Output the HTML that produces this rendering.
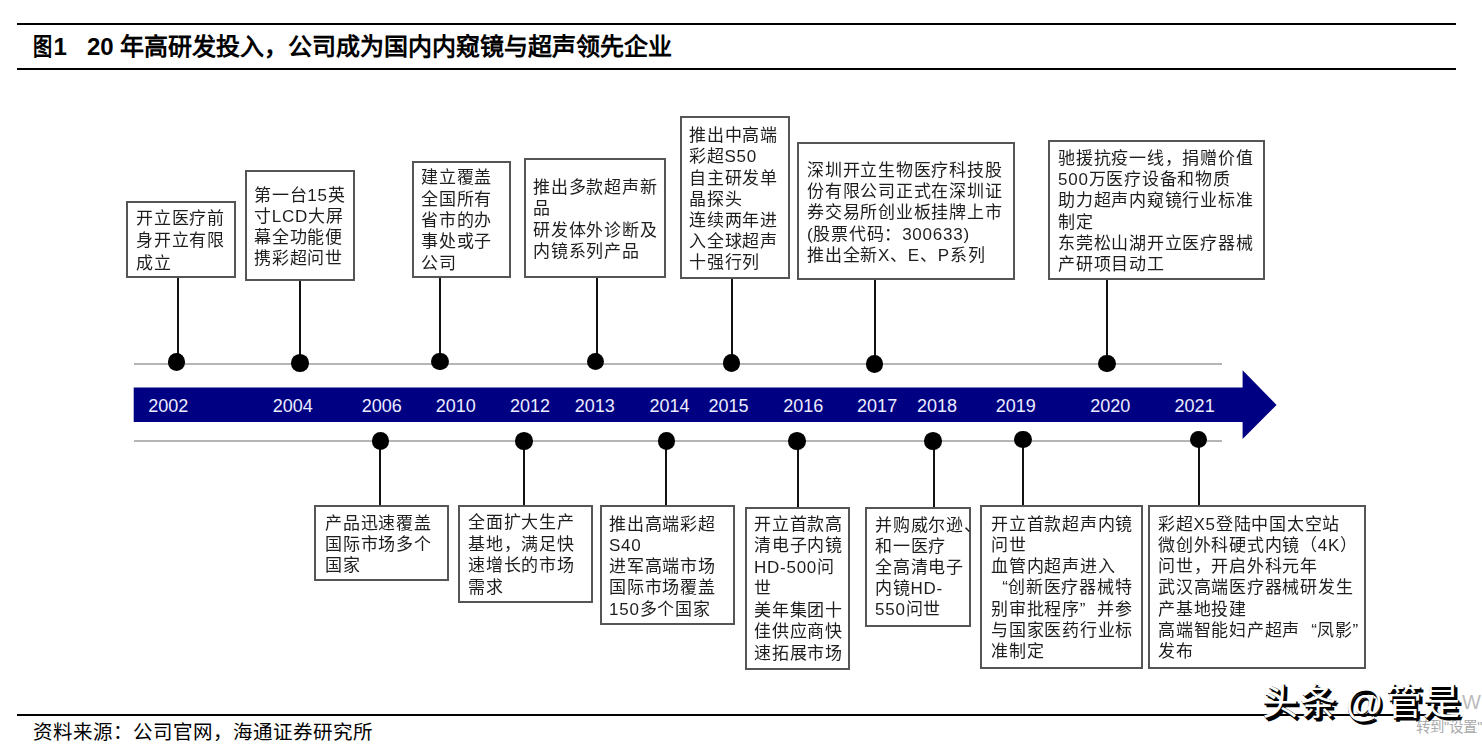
<!DOCTYPE html>
<html lang="zh-CN"><head><meta charset="utf-8"><title>timeline</title>
<style>
html,body{margin:0;padding:0;background:#fff;}
body{width:1482px;height:746px;position:relative;overflow:hidden;-webkit-font-smoothing:antialiased;font-family:"Liberation Sans",sans-serif;color:#1a1a1a;}
.hl{position:absolute;background:#000;height:2px;}
.gl{position:absolute;background:#b5b5b5;height:2px;left:133.7px;width:1088px;}
.bx{position:absolute;border:2px solid #555;background:#fff;}
.st{position:absolute;width:2px;background:#111;}
.dt{position:absolute;width:17.6px;height:17.6px;border-radius:50%;background:#000;}
.tx{position:absolute;will-change:transform;font-size:17px;line-height:20px;letter-spacing:0.75px;white-space:nowrap;color:#1e1e1e;}
.wm{position:absolute;font-size:36px;line-height:40px;font-weight:bold;white-space:nowrap;}
.ql{display:inline-block;width:17px;text-align:right;letter-spacing:0}
.qr{display:inline-block;width:17px;text-align:left;letter-spacing:0}
.yr{position:absolute;font-size:18px;line-height:20px;white-space:nowrap;color:#ececff;top:396px;}
</style></head><body>

<div class="hl" style="left:17px;top:23px;width:1439px"></div>
<div style="position:absolute;left:33px;top:31.5px;font-size:24px;line-height:30px;font-weight:bold;white-space:nowrap;color:#000;transform:scaleX(0.8);transform-origin:0 0">图</div>
<div style="position:absolute;left:53.5px;top:31.5px;font-size:24px;line-height:30px;font-weight:bold;white-space:nowrap;color:#000">1</div>
<div style="position:absolute;left:87px;top:31.5px;font-size:24px;line-height:30px;font-weight:bold;white-space:nowrap;color:#000">20 年高研发投入，公司成为国内内窥镜与超声领先企业</div>
<div class="hl" style="left:17px;top:68px;width:1439px"></div>
<div class="gl" style="top:363px"></div>
<div class="gl" style="top:440px"></div>
<svg style="position:absolute;left:0;top:0" width="1482" height="746"><polygon points="133.7,387.6 1242.6,387.6 1242.6,370.3 1276.6,405 1242.6,439.1 1242.6,422 133.7,422" fill="#000082"/></svg>
<div class="yr" style="left:148.3px">2002</div>
<div class="yr" style="left:272.7px">2004</div>
<div class="yr" style="left:361.7px">2006</div>
<div class="yr" style="left:435.8px">2010</div>
<div class="yr" style="left:510px">2012</div>
<div class="yr" style="left:574.8px">2013</div>
<div class="yr" style="left:649.4px">2014</div>
<div class="yr" style="left:708.5px">2015</div>
<div class="yr" style="left:783.2px">2016</div>
<div class="yr" style="left:857.1px">2017</div>
<div class="yr" style="left:916.9px">2018</div>
<div class="yr" style="left:995.7px">2019</div>
<div class="yr" style="left:1090.2px">2020</div>
<div class="yr" style="left:1174.6px">2021</div>
<div class="bx" style="left:126px;top:201px;width:106px;height:73px"></div>
<div class="st" style="left:176.5px;top:278px;height:84px"></div>
<div class="dt" style="left:167.7px;top:353.2px"></div>
<div class="tx" style="left:136px;top:208.9px">开立医疗前</div>
<div class="tx" style="left:136px;top:231.3px">身开立有限</div>
<div class="tx" style="left:136px;top:253.7px">成立</div>
<div class="bx" style="left:245px;top:170px;width:106px;height:107px"></div>
<div class="st" style="left:299px;top:281px;height:82px"></div>
<div class="dt" style="left:291.2px;top:354.2px"></div>
<div class="tx" style="left:254px;top:185.9px">第一台15英</div>
<div class="tx" style="left:254px;top:206.8px">寸LCD大屏</div>
<div class="tx" style="left:254px;top:227.7px">幕全功能便</div>
<div class="tx" style="left:254px;top:248.6px">携彩超问世</div>
<div class="bx" style="left:412px;top:161px;width:95px;height:113px"></div>
<div class="st" style="left:439px;top:278px;height:83.5px"></div>
<div class="dt" style="left:431.2px;top:352.7px"></div>
<div class="tx" style="left:420.8px;top:168.3px">建立覆盖</div>
<div class="tx" style="left:420.8px;top:189.6px">全国所有</div>
<div class="tx" style="left:420.8px;top:210.9px">省市的办</div>
<div class="tx" style="left:420.8px;top:232.2px">事处或子</div>
<div class="tx" style="left:420.8px;top:253.5px">公司</div>
<div class="bx" style="left:524px;top:158px;width:138px;height:116px"></div>
<div class="st" style="left:595.5px;top:278px;height:83.5px"></div>
<div class="dt" style="left:586.7px;top:352.7px"></div>
<div class="tx" style="left:533.2px;top:177.8px">推出多款超声新</div>
<div class="tx" style="left:533.2px;top:199.2px">品</div>
<div class="tx" style="left:533.2px;top:220.6px">研发体外诊断及</div>
<div class="tx" style="left:533.2px;top:242px">内镜系列产品</div>
<div class="bx" style="left:680px;top:116px;width:106px;height:159px"></div>
<div class="st" style="left:730.5px;top:279px;height:84px"></div>
<div class="dt" style="left:722.5px;top:354.2px"></div>
<div class="tx" style="left:689.3px;top:126.2px">推出中高端</div>
<div class="tx" style="left:689.3px;top:147.4px">彩超S50</div>
<div class="tx" style="left:689.3px;top:168.6px">自主研发单</div>
<div class="tx" style="left:689.3px;top:189.8px">晶探头</div>
<div class="tx" style="left:689.3px;top:211px">连续两年进</div>
<div class="tx" style="left:689.3px;top:232.2px">入全球超声</div>
<div class="tx" style="left:689.3px;top:253.4px">十强行列</div>
<div class="bx" style="left:797px;top:142px;width:214px;height:134px"></div>
<div class="st" style="left:873.7px;top:280px;height:84px"></div>
<div class="dt" style="left:865.5px;top:355.2px"></div>
<div class="tx" style="left:806.7px;top:160.5px">深圳开立生物医疗科技股</div>
<div class="tx" style="left:806.7px;top:181.9px">份有限公司正式在深圳证</div>
<div class="tx" style="left:806.7px;top:203.3px">券交易所创业板挂牌上市</div>
<div class="tx" style="left:806.7px;top:224.7px">(股票代码：300633)</div>
<div class="tx" style="left:806.7px;top:246.1px">推出全新X、E、P系列</div>
<div class="bx" style="left:1048px;top:140px;width:213px;height:136px"></div>
<div class="st" style="left:1106px;top:280px;height:83.4px"></div>
<div class="dt" style="left:1098px;top:354.6px"></div>
<div class="tx" style="left:1058.2px;top:148.7px">驰援抗疫一线，捐赠价值</div>
<div class="tx" style="left:1058.2px;top:170px">500万医疗设备和物质</div>
<div class="tx" style="left:1058.2px;top:191.3px">助力超声内窥镜行业标准</div>
<div class="tx" style="left:1058.2px;top:212.6px">制定</div>
<div class="tx" style="left:1058.2px;top:233.9px">东莞松山湖开立医疗器械</div>
<div class="tx" style="left:1058.2px;top:255.2px">产研项目动工</div>
<div class="bx" style="left:314px;top:505px;width:131px;height:72px"></div>
<div class="st" style="left:379.4px;top:441px;height:64px"></div>
<div class="dt" style="left:371.7px;top:432.2px"></div>
<div class="tx" style="left:325.3px;top:513.9px">产品迅速覆盖</div>
<div class="tx" style="left:325.3px;top:535.1px">国际市场多个</div>
<div class="tx" style="left:325.3px;top:556.3px">国家</div>
<div class="bx" style="left:458px;top:505px;width:131px;height:94px"></div>
<div class="st" style="left:523px;top:441px;height:64px"></div>
<div class="dt" style="left:515.4px;top:432.2px"></div>
<div class="tx" style="left:468.2px;top:512.8px">全面扩大生产</div>
<div class="tx" style="left:468.2px;top:534.5px">基地，满足快</div>
<div class="tx" style="left:468.2px;top:556.2px">速增长的市场</div>
<div class="tx" style="left:468.2px;top:577.9px">需求</div>
<div class="bx" style="left:600px;top:505px;width:131px;height:116px"></div>
<div class="st" style="left:665.4px;top:441px;height:64px"></div>
<div class="dt" style="left:657.5px;top:432.2px"></div>
<div class="tx" style="left:609.1px;top:514.5px">推出高端彩超</div>
<div class="tx" style="left:609.1px;top:535.8px">S40</div>
<div class="tx" style="left:609.1px;top:557.1px">进军高端市场</div>
<div class="tx" style="left:609.1px;top:578.4px">国际市场覆盖</div>
<div class="tx" style="left:609.1px;top:599.7px">150多个国家</div>
<div class="bx" style="left:745px;top:507px;width:101px;height:159px"></div>
<div class="st" style="left:796.6px;top:441px;height:66px"></div>
<div class="dt" style="left:788.4px;top:432.2px"></div>
<div class="tx" style="left:754.3px;top:515px">开立首款高</div>
<div class="tx" style="left:754.3px;top:536.45px">清电子内镜</div>
<div class="tx" style="left:754.3px;top:557.9px">HD-500问</div>
<div class="tx" style="left:754.3px;top:579.35px">世</div>
<div class="tx" style="left:754.3px;top:600.8px">美年集团十</div>
<div class="tx" style="left:754.3px;top:622.25px">佳供应商快</div>
<div class="tx" style="left:754.3px;top:643.7px">速拓展市场</div>
<div class="bx" style="left:865px;top:507px;width:102px;height:116px"></div>
<div class="st" style="left:933px;top:441px;height:66px"></div>
<div class="dt" style="left:924.2px;top:432.2px"></div>
<div class="tx" style="left:875px;top:516.3px">并购威尔逊、</div>
<div class="tx" style="left:875px;top:537.3px">和一医疗</div>
<div class="tx" style="left:875px;top:558.3px">全高清电子</div>
<div class="tx" style="left:875px;top:579.3px">内镜HD-</div>
<div class="tx" style="left:875px;top:600.3px">550问世</div>
<div class="bx" style="left:980px;top:505px;width:159px;height:160px"></div>
<div class="st" style="left:1022.2px;top:439.5px;height:65.5px"></div>
<div class="dt" style="left:1014.3px;top:430.7px"></div>
<div class="tx" style="left:990.8px;top:514.5px">开立首款超声内镜</div>
<div class="tx" style="left:990.8px;top:535.8px">问世</div>
<div class="tx" style="left:990.8px;top:557.1px">血管内超声进入</div>
<div class="tx" style="left:990.8px;top:578.4px"><span class=ql>“</span>创新医疗器械特</div>
<div class="tx" style="left:990.8px;top:599.7px">别审批程序<span class=qr>”</span>并参</div>
<div class="tx" style="left:990.8px;top:621px">与国家医药行业标</div>
<div class="tx" style="left:990.8px;top:642.3px">准制定</div>
<div class="bx" style="left:1148px;top:505px;width:214px;height:160px"></div>
<div class="st" style="left:1198.4px;top:439.5px;height:65.5px"></div>
<div class="dt" style="left:1189.8px;top:430.7px"></div>
<div class="tx" style="left:1157.8px;top:514.5px">彩超X5登陆中国太空站</div>
<div class="tx" style="left:1157.8px;top:535.8px">微创外科硬式内镜（4K）</div>
<div class="tx" style="left:1157.8px;top:557.1px">问世，开启外科元年</div>
<div class="tx" style="left:1157.8px;top:578.4px">武汉高端医疗器械研发生</div>
<div class="tx" style="left:1157.8px;top:599.7px">产基地投建</div>
<div class="tx" style="left:1157.8px;top:621px">高端智能妇产超声<span class=ql>“</span>凤影<span class=qr>”</span></div>
<div class="tx" style="left:1157.8px;top:642.3px">发布</div>
<div class="hl" style="left:17px;top:714px;width:1439px"></div>
<div style="position:absolute;left:33px;top:717.3px;font-size:19.5px;line-height:30px;white-space:nowrap;color:#000">资料来源：公司官网，海通证券研究所</div>
<div class="wm" style="left:1263px;top:684px;font-size:36px;color:#000;text-shadow:2px 2px 0 #000">头</div>
<div class="wm" style="left:1262px;top:683px;font-size:36px;color:#fff;font-weight:normal">头</div>
<div class="wm" style="left:1301px;top:684px;font-size:36px;color:#000;text-shadow:2px 2px 0 #000">条</div>
<div class="wm" style="left:1300px;top:683px;font-size:36px;color:#fff;font-weight:normal">条</div>
<div class="wm" style="left:1346px;top:684px;font-size:38px;color:#000;text-shadow:2px 2px 0 #000">@</div>
<div class="wm" style="left:1345px;top:683px;font-size:38px;color:#fff;font-weight:normal">@</div>
<div class="wm" style="left:1387px;top:684px;font-size:36px;color:#000;text-shadow:2px 2px 0 #000">管</div>
<div class="wm" style="left:1386px;top:683px;font-size:36px;color:#fff;font-weight:normal">管</div>
<div class="wm" style="left:1424px;top:684px;font-size:37px;color:#000;text-shadow:2px 2px 0 #000">是</div>
<div class="wm" style="left:1423px;top:683px;font-size:37px;color:#fff;font-weight:normal">是</div>
<div style="position:absolute;left:1462px;top:690px;font-size:20px;line-height:24px;white-space:nowrap;color:#bbb">W</div>
<div style="position:absolute;left:1416px;top:719px;font-size:14.5px;line-height:16px;white-space:nowrap;color:#aaa">转到"设置"</div>
</body></html>
